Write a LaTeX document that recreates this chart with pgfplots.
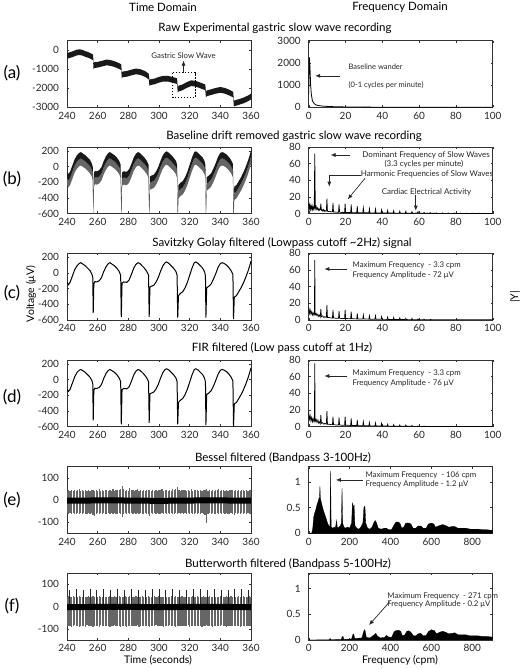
\documentclass[border=0pt]{standalone}
\usepackage{pgfplots}
\pgfplotsset{compat=1.18}
\usepackage{pgfplotstable}
\usetikzlibrary{arrows.meta}
\usepackage{fontspec}
\setmainfont{Lato}

\pgfplotsset{
 panel/.style={scale only axis, width=184pt, height=66.7pt, anchor=south west,
  clip mode=individual,
  axis line style={black!80, line width=0.45pt},
  tick align=inside, tick pos=both, major tick length=2.2pt,
  tick style={black!80, line width=0.4pt},
  ticklabel style={font=\fontsize{10}{11}\selectfont, text=black!85},
  yticklabel style={xshift=-4.5pt},
  xticklabel style={yshift=-1pt},
  /pgf/number format/1000 sep={},
  /pgf/number format/assume math mode=true},
 tleft/.style={panel, xmin=240, xmax=360, xtick={240,260,...,360}},
 fright/.style={panel, xmin=0, xmax=100, xtick={0,20,...,100}},
 fwide/.style={panel, xmin=0, xmax=900, xtick={0,200,...,800}, ymin=0, ymax=1.3, ytick={0,0.5,1}},
}
\tikzset{
 ann/.style={font=\fontsize{7.8}{9}\selectfont, text=black!85, inner sep=0pt},
 annb/.style={font=\fontsize{8}{9}\selectfont, text=black!85, inner sep=0pt},
 arr/.style={-{Latex[length=5pt,width=4pt]}, line width=0.7pt, black!85},
 ttl/.style={font=\fontsize{11.5}{13}\selectfont},
 lbl/.style={font=\fontsize{10.5}{12}\selectfont},
}

% ---- (c) Savitzky-Golay
\pgfplotstableread{
t v
240 -120
241 -150
242 -120
243.5 -40
245 40
246.5 90
248 120
249 130
250.5 110
252 90
253.5 60
255 30
256.3 -20
256.8 -60
257.1 -510
257.5 -140
258.2 -110
259.5 -115
261 -100
262.5 -60
264 20
265.5 80
267 120
268 130
269.5 110
271 90
272.5 60
274 20
275 -30
275.4 -560
275.9 -130
277 -115
279 -120
280.5 -90
282 -20
283.5 60
285 110
286.3 130
287.5 120
289 90
290.5 60
292 20
293.2 -30
293.6 -560
294.1 -180
295 -170
296.5 -160
298 -120
299.5 -60
301 20
302.5 90
304 130
305 140
306.5 120
308 90
309.5 60
311 20
311.8 -30
312.2 -570
312.7 -290
314 -260
315.5 -240
317 -190
318.5 -120
320 -30
321.5 60
323 130
324 140
325.5 120
327 90
328.5 60
329.8 10
330.3 -40
330.6 -570
331.1 -190
332.5 -170
334 -140
335.5 -80
337 -10
338.5 70
340 120
341.3 130
342.5 120
344 100
345.5 70
347 30
348.2 -20
348.6 -590
349.1 -310
350.5 -290
352 -240
353.5 -190
355 -130
356.5 -60
358 20
359 80
360 150
}\tabC

% ---- (d) FIR
\pgfplotstableread{
t v
240 -125
241 -150
242 -125
243.5 -45
245 35
246.5 90
248 120
249 128
250.5 112
252 90
253.5 62
255 30
256.3 -15
256.8 -55
257.1 -520
257.5 -135
258.2 -110
259.5 -112
261 -100
262.5 -62
264 18
265.5 80
267 118
268 128
269.5 112
271 92
272.5 62
274 22
275 -25
275.4 -570
275.9 -130
277 -112
279 -118
280.5 -92
282 -22
283.5 58
285 110
286.3 128
287.5 120
289 92
290.5 62
292 22
293.2 -25
293.6 -550
294.1 -180
295 -172
296.5 -160
298 -122
299.5 -62
301 18
302.5 90
304 130
305 138
306.5 122
308 92
309.5 62
311 22
311.8 -25
312.2 -570
312.7 -290
314 -262
315.5 -240
317 -192
318.5 -122
320 -32
321.5 58
323 128
324 138
325.5 122
327 92
328.5 62
329.8 12
330.3 -35
330.6 -580
331.1 -190
332.5 -172
334 -142
335.5 -82
337 -12
338.5 68
340 118
341.3 130
342.5 120
344 102
345.5 72
347 32
348.2 -15
348.6 -600
349.1 -310
350.5 -292
352 -242
353.5 -192
355 -132
356.5 -62
358 18
359 80
360 150
}\tabD

% ---- (e) Bessel: upper and lower tips of the cardiac spikes
\pgfplotstableread{
x up dn
240 42 -58
241 45 -62
242 40 -60
243 44 -63
244 38 -57
245 46 -61
246 41 -64
247 43 -59
248 47 -62
249 40 -58
250 44 -63
251 39 -60
252 45 -61
253 42 -64
254 46 -58
255 41 -62
256 44 -60
257 43 -66
258 40 -72
259 45 -61
260 42 -59
261 47 -63
262 39 -60
263 44 -62
264 41 -58
265 46 -64
266 43 -61
267 40 -59
268 45 -63
269 42 -60
270 48 -62
271 41 -58
272 44 -64
273 46 -61
274 43 -60
275 50 -63
276 63 -75
277 48 -62
278 42 -60
279 45 -64
280 40 -58
281 55 -62
282 43 -60
283 46 -63
284 41 -59
285 44 -62
286 47 -60
287 40 -64
288 45 -58
289 42 -61
290 44 -63
291 39 -60
292 46 -62
293 43 -65
294 45 -70
295 41 -60
296 44 -62
297 40 -58
298 46 -64
299 42 -60
300 45 -61
301 43 -63
302 48 -59
303 41 -62
304 44 -60
305 46 -64
306 40 -58
307 45 -62
308 42 -60
309 47 -63
310 43 -61
311 50 -60
312 56 -64
313 44 -58
314 41 -62
315 46 -60
316 43 -63
317 45 -59
318 40 -62
319 44 -60
320 42 -64
321 47 -58
322 41 -61
323 45 -63
324 43 -60
325 46 -62
326 40 -59
327 44 -63
328 42 -60
329 45 -62
330 43 -66
331 48 -105
332 41 -62
333 44 -60
334 40 -63
335 46 -58
336 42 -61
337 45 -64
338 43 -60
339 47 -62
340 41 -59
341 44 -63
342 46 -60
343 40 -62
344 45 -58
345 42 -64
346 44 -61
347 43 -60
348 46 -63
349 41 -68
350 44 -60
351 40 -62
352 45 -59
353 42 -63
354 46 -60
355 43 -62
356 41 -58
357 45 -64
358 42 -60
359 44 -61
360 43 -62
}\tabE

% ---- (f) Butterworth
\pgfplotstableread{
x up dn
240 44 -86
241 46 -88
242 43 -85
243 45 -90
244 47 -87
245 42 -84
246 45 -89
247 44 -86
248 46 -91
249 43 -85
250 45 -88
251 47 -86
252 44 -90
253 42 -84
254 46 -87
255 45 -89
256 43 -86
257 47 -92
258 44 -85
259 45 -88
260 42 -87
261 46 -90
262 44 -84
263 45 -88
264 47 -86
265 43 -89
266 45 -87
267 44 -85
268 46 -90
269 42 -86
270 45 -88
271 47 -84
272 44 -89
273 43 -87
274 46 -86
275 45 -91
276 44 -85
277 42 -88
278 46 -86
279 45 -90
280 43 -87
281 47 -85
282 44 -88
283 45 -86
284 43 -89
285 46 -87
286 44 -84
287 45 -90
288 42 -86
289 47 -88
290 44 -85
291 45 -89
292 43 -87
293 46 -86
294 44 -91
295 45 -85
296 42 -88
297 46 -87
298 44 -84
299 45 -89
300 47 -86
301 43 -88
302 45 -85
303 44 -90
304 46 -87
305 42 -86
306 45 -89
307 44 -84
308 47 -88
309 43 -87
310 45 -85
311 46 -90
312 44 -86
313 42 -88
314 45 -87
315 47 -85
316 44 -89
317 43 -86
318 46 -88
319 45 -84
320 44 -90
321 42 -87
322 46 -85
323 45 -88
324 43 -86
325 47 -89
326 44 -87
327 45 -85
328 43 -90
329 46 -86
330 44 -88
331 45 -84
332 42 -89
333 46 -87
334 44 -86
335 45 -90
336 47 -85
337 43 -88
338 45 -86
339 44 -89
340 46 -87
341 42 -84
342 45 -88
343 44 -86
344 47 -90
345 43 -85
346 45 -88
347 46 -87
348 44 -86
349 42 -89
350 45 -85
351 44 -88
352 46 -86
353 43 -90
354 45 -87
355 47 -85
356 44 -88
357 45 -86
358 43 -89
359 46 -87
360 44 -86
}\tabF

\pgfplotstableread{
x up
241.5 76
246 79
250.5 75
255 78
259.5 77
264 80
268.5 76
273 78
277.5 75
282 79
286.5 77
291 76
295.5 80
300 78
304.5 75
309 79
313.5 77
318 76
322.5 80
327 78
331.5 75
336 79
340.5 77
345 76
349.5 78
354 80
358.5 75
}\tabFtall

\begin{document}
\begin{tikzpicture}
\useasboundingbox (0pt,0pt) rectangle (522pt,669pt);

% column and row titles
\node[ttl] at (163pt,662pt) {Time Domain};
\node[ttl] at (400pt,662pt) {Frequency Domain};
\node[ttl] at (275pt,641pt) {Raw Experimental gastric slow wave recording};
\node[ttl] at (294pt,533pt) {Baseline drift removed gastric slow wave recording};
\node[ttl] at (282pt,425.7pt) {Savitzky Golay filtered (Lowpass cutoff {\textasciitilde}2Hz) signal};
\node[ttl] at (282pt,320.7pt) {FIR filtered (Low pass cutoff at 1Hz)};
\node[ttl] at (283pt,211.3pt) {Bessel filtered (Bandpass 3-100Hz)};
\node[ttl] at (288pt,104.7pt) {Butterworth filtered (Bandpass 5-100Hz)};

\node[font=\fontsize{17}{19}\selectfont] at (12pt,596pt) {(a)};
\node[font=\fontsize{17}{19}\selectfont] at (12pt,490pt) {(b)};
\node[font=\fontsize{17}{19}\selectfont] at (12pt,376.3pt) {(c)};
\node[font=\fontsize{17}{19}\selectfont] at (12pt,272.3pt) {(d)};
\node[font=\fontsize{17}{19}\selectfont] at (12pt,169pt) {(e)};
\node[font=\fontsize{17}{19}\selectfont] at (12pt,63.3pt) {(f)};

\node[lbl, rotate=90] at (31pt,375pt) {Voltage (μV)};
\node[lbl, rotate=90] at (515pt,372pt) {|Y|};
\node[lbl] at (158pt,9pt) {Time (seconds)};
\node[lbl] at (400pt,9pt) {Frequency (cpm)};

% ================= (a)
\begin{axis}[tleft, at={(67pt,561.6pt)}, ymin=-3000, ymax=500, ytick={-3000,-2000,-1000,0}]
\addplot[fill=black!90, draw=none] coordinates {(240,-150)(242,-100)(244,-50)(246,20)(248,50)(250,20)(252,-50)(254,-100)(256,-180)(257,-230)(257.3,-700)(257.8,-630)(260,-610)(263,-550)(266,-490)(269,-530)(272,-610)(274.5,-700)(275.4,-750)(275.7,-1170)(276.2,-1120)(279,-1090)(282,-1020)(285,-960)(288,-1000)(291,-1100)(293.3,-1230)(293.8,-1570)(294.3,-1530)(297,-1490)(300,-1400)(303,-1340)(306,-1350)(309,-1410)(311.8,-1470)(312.2,-1910)(312.8,-1860)(315,-1810)(318,-1680)(321,-1580)(324,-1610)(327,-1700)(330.2,-1800)(330.6,-2170)(331.2,-2110)(334,-2050)(337,-1980)(340,-1930)(343,-1980)(346,-2080)(348.4,-2180)(348.8,-2650)(349.5,-2630)(352,-2570)(355,-2490)(358,-2380)(360,-2280)
(360,-2580)(358,-2680)(355,-2790)(352,-2870)(349.5,-2930)(348.8,-2950)(348.4,-2480)(346,-2380)(343,-2280)(340,-2230)(337,-2280)(334,-2350)(331.2,-2410)(330.6,-2470)(330.2,-2100)(327,-2000)(324,-1910)(321,-1880)(318,-1980)(315,-2110)(312.8,-2160)(312.2,-2210)(311.8,-1770)(309,-1710)(306,-1650)(303,-1640)(300,-1700)(297,-1790)(294.3,-1830)(293.8,-1870)(293.3,-1530)(291,-1400)(288,-1300)(285,-1260)(282,-1320)(279,-1390)(276.2,-1420)(275.7,-1470)(275.4,-1050)(274.5,-1000)(272,-910)(269,-830)(266,-790)(263,-850)(260,-910)(257.8,-930)(257.3,-1000)(257,-530)(256,-480)(254,-400)(252,-350)(250,-280)(248,-250)(246,-280)(244,-350)(242,-400)(240,-450)};
\draw[black, line width=1pt, dash pattern=on 1.6pt off 1.4pt] (309,-1170) rectangle (323.5,-2480);
\draw[arr] (316,-1170) -- (316,-540);
\node[ann, anchor=south] at (316,-430) {Gastric Slow Wave};
\end{axis}
\begin{axis}[fright, at={(308.7pt,561.6pt)}, ymin=0, ymax=3000, ytick={0,1000,2000,3000}]
\addplot[black, line width=0.8pt] coordinates {(0,600)(0.4,2250)(0.7,1800)(1.0,1100)(1.4,600)(2,300)(3,170)(4,110)(5,90)(6,75)(8,55)(10,45)(14,30)(20,20)(30,12)(40,9)(60,6)(80,4)(100,3)};
\draw[arr] (17,1418) -- (3.5,1418);
\node[ann, anchor=west, font=\fontsize{7.5}{9}\selectfont] at (21.6,1836) {Baseline wander};
\node[ann, anchor=west, font=\fontsize{7.5}{9}\selectfont] at (21.6,1015) {(0-1 cycles per minute)};
\end{axis}

% ================= (b)
\begin{axis}[tleft, at={(67pt,455.3pt)}, ymin=-600, ymax=250, ytick={-600,-400,...,200}]
\addplot[fill=black!60, draw=none] coordinates {(240,-145)(241,-175)(242,-145)(243.5,-65)(245,15)(246.5,65)(248,95)(249,105)(250.5,85)(252,65)(253.5,35)(255,5)(256.3,-45)(256.8,-85)(257.1,-535)(257.5,-165)(258.2,-135)(259.5,-140)(261,-125)(262.5,-85)(264,-5)(265.5,55)(267,95)(268,105)(269.5,85)(271,65)(272.5,35)(274,-5)(275,-55)(275.4,-585)(275.9,-155)(277,-140)(279,-145)(280.5,-115)(282,-45)(283.5,35)(285,85)(286.3,105)(287.5,95)(289,65)(290.5,35)(292,-5)(293.2,-55)(293.6,-585)(294.1,-205)(295,-195)(296.5,-185)(298,-145)(299.5,-85)(301,-5)(302.5,65)(304,105)(305,115)(306.5,95)(308,65)(309.5,35)(311,-5)(311.8,-55)(312.2,-595)(312.7,-315)(314,-285)(315.5,-265)(317,-215)(318.5,-145)(320,-55)(321.5,35)(323,105)(324,115)(325.5,95)(327,65)(328.5,35)(329.8,-15)(330.3,-65)(330.6,-595)(331.1,-215)(332.5,-195)(334,-165)(335.5,-105)(337,-35)(338.5,45)(340,95)(341.3,105)(342.5,95)(344,75)(345.5,45)(347,5)(348.2,-45)(348.6,-615)(349.1,-335)(350.5,-315)(352,-265)(353.5,-215)(355,-155)(356.5,-85)(358,-5)(359,55)(360,125)
(360,35)(359,-35)(358,-95)(356.5,-175)(355,-245)(353.5,-305)(352,-355)(350.5,-405)(349.1,-425)(348.6,-705)(348.2,-135)(347,-85)(345.5,-45)(344,-15)(342.5,5)(341.3,15)(340,5)(338.5,-45)(337,-125)(335.5,-195)(334,-255)(332.5,-285)(331.1,-305)(330.6,-685)(330.3,-155)(329.8,-105)(328.5,-55)(327,-25)(325.5,5)(324,25)(323,15)(321.5,-55)(320,-145)(318.5,-235)(317,-305)(315.5,-355)(314,-375)(312.7,-405)(312.2,-685)(311.8,-145)(311,-95)(309.5,-55)(308,-25)(306.5,5)(305,25)(304,15)(302.5,-25)(301,-95)(299.5,-175)(298,-235)(296.5,-275)(295,-285)(294.1,-295)(293.6,-675)(293.2,-145)(292,-95)(290.5,-55)(289,-25)(287.5,5)(286.3,15)(285,-5)(283.5,-55)(282,-135)(280.5,-205)(279,-235)(277,-230)(275.9,-245)(275.4,-675)(275,-145)(274,-95)(272.5,-55)(271,-25)(269.5,-5)(268,15)(267,5)(265.5,-35)(264,-95)(262.5,-175)(261,-215)(259.5,-230)(258.2,-225)(257.5,-255)(257.1,-625)(256.8,-175)(256.3,-135)(255,-85)(253.5,-55)(252,-25)(250.5,-5)(249,15)(248,5)(246.5,-25)(245,-75)(243.5,-155)(242,-235)(241,-265)(240,-235)};
\addplot[fill=black!90, draw=none] coordinates {(240,-65)(241,-95)(242,-65)(243.5,15)(245,95)(246.5,145)(248,175)(249,185)(250.5,165)(252,145)(253.5,115)(255,85)(256.3,35)(256.8,-5)(257.1,-455)(257.5,-85)(258.2,-55)(259.5,-60)(261,-45)(262.5,-5)(264,75)(265.5,135)(267,175)(268,185)(269.5,165)(271,145)(272.5,115)(274,75)(275,25)(275.4,-505)(275.9,-75)(277,-60)(279,-65)(280.5,-35)(282,35)(283.5,115)(285,165)(286.3,185)(287.5,175)(289,145)(290.5,115)(292,75)(293.2,25)(293.6,-505)(294.1,-125)(295,-115)(296.5,-105)(298,-65)(299.5,-5)(301,75)(302.5,145)(304,185)(305,195)(306.5,175)(308,145)(309.5,115)(311,75)(311.8,25)(312.2,-515)(312.7,-235)(314,-205)(315.5,-185)(317,-135)(318.5,-65)(320,25)(321.5,115)(323,185)(324,195)(325.5,175)(327,145)(328.5,115)(329.8,65)(330.3,15)(330.6,-515)(331.1,-135)(332.5,-115)(334,-85)(335.5,-25)(337,45)(338.5,125)(340,175)(341.3,185)(342.5,175)(344,155)(345.5,125)(347,85)(348.2,35)(348.6,-535)(349.1,-255)(350.5,-235)(352,-185)(353.5,-135)(355,-75)(356.5,-5)(358,75)(359,135)(360,205)
(360,125)(359,55)(358,-5)(356.5,-85)(355,-155)(353.5,-215)(352,-265)(350.5,-315)(349.1,-335)(348.6,-615)(348.2,-45)(347,5)(345.5,45)(344,75)(342.5,95)(341.3,105)(340,95)(338.5,45)(337,-35)(335.5,-105)(334,-165)(332.5,-195)(331.1,-215)(330.6,-595)(330.3,-65)(329.8,-15)(328.5,35)(327,65)(325.5,95)(324,115)(323,105)(321.5,35)(320,-55)(318.5,-145)(317,-215)(315.5,-265)(314,-285)(312.7,-315)(312.2,-595)(311.8,-55)(311,-5)(309.5,35)(308,65)(306.5,95)(305,115)(304,105)(302.5,65)(301,-5)(299.5,-85)(298,-145)(296.5,-185)(295,-195)(294.1,-205)(293.6,-585)(293.2,-55)(292,-5)(290.5,35)(289,65)(287.5,95)(286.3,105)(285,85)(283.5,35)(282,-45)(280.5,-115)(279,-145)(277,-140)(275.9,-155)(275.4,-585)(275,-55)(274,-5)(272.5,35)(271,65)(269.5,85)(268,105)(267,95)(265.5,55)(264,-5)(262.5,-85)(261,-125)(259.5,-140)(258.2,-135)(257.5,-165)(257.1,-535)(256.8,-85)(256.3,-45)(255,5)(253.5,35)(252,65)(250.5,85)(249,105)(248,95)(246.5,65)(245,15)(243.5,-65)(242,-145)(241,-175)(240,-145)};
\end{axis}
\begin{axis}[fright, at={(308.7pt,455.3pt)}, ymin=0, ymax=80, ytick={0,20,...,80}]
\addplot[black, line width=0.7pt] coordinates {(0,12)(0.3,6)(0.6,11)(0.9,5)(1.2,9)(1.5,6)(1.8,10)(2.1,5)(2.4,8)(2.7,5)(3.0,7)(3.3,72)(3.6,6)(4,9)(4.4,5)(4.8,7)(5.2,4)(5.6,6)(6,4)(6.3,5)(6.6,12)(6.9,4)(7.3,5)(7.7,3)(8.1,5)(8.5,3)(8.9,4)(9.3,3)(9.6,3)(9.9,18)(10.2,3)(10.8,2.5)(11.5,3)(12.2,2)(12.9,2.5)(13.2,13)(13.5,2)(14.5,2)(15.5,1.8)(16.2,1.8)(16.5,11)(16.8,1.8)(18,1.5)(19.5,1.5)(19.8,12)(20.1,1.5)(22.8,1.3)(23.1,11)(23.4,1.3)(26.1,1.2)(26.4,9)(26.7,1.2)(29.4,1.1)(29.7,7)(30,1.1)(32.7,1)(33,6)(33.3,1)(36,0.9)(36.3,5.5)(36.6,0.9)(39.3,0.8)(39.6,4.5)(39.9,0.8)(42.6,0.8)(42.9,4)(43.2,0.8)(45.9,0.7)(46.2,3.5)(46.5,0.7)(49.2,0.7)(49.5,3)(49.8,0.7)(52.5,0.6)(52.8,3)(53.1,0.6)(55.8,0.6)(56.1,2.5)(56.4,0.6)(59.1,0.8)(59.4,2.5)(59.7,0.8)(62.4,0.5)(62.7,1.5)(63,0.5)(65.7,0.5)(66,1.3)(66.3,0.5)(69,0.4)(69.3,1.1)(69.6,0.4)(72.3,0.4)(72.6,1)(72.9,0.4)(75.6,0.4)(75.9,0.9)(76.2,0.4)(78.9,0.3)(79.2,0.8)(79.5,0.3)(82.2,0.3)(82.5,0.7)(82.8,0.3)(85.5,0.3)(85.8,0.6)(86.1,0.3)(88.8,0.3)(89.1,0.6)(89.4,0.3)(92.1,0.3)(92.4,0.5)(92.7,0.3)(95.4,0.3)(95.7,0.5)(96,0.3)(100,0.3)};
\draw[arr] (22.4,70.4) -- (11.9,70.4);
\node[annb] at (63.8,69.8) {Dominant Frequency of Slow Waves};
\node[annb] at (62.6,59.6) {(3.3 cycles per minute)};
\node[annb] at (64.3,46.8) {Harmonic Frequencies of Slow Waves};
\draw[line width=0.7pt, black!85] (28.5,45.6) -- (11.2,45.6);
\draw[arr] (11.2,45.6) -- (11.2,32.4);
\draw[arr] (30.6,42.4) -- (21.2,17.2);
\node[annb] at (64,25.6) {Cardiac Electrical Activity};
\draw[arr] (58.2,22.4) -- (58.2,3.6);
\end{axis}

% ================= (c)
\begin{axis}[tleft, at={(67pt,349pt)}, ymin=-600, ymax=250, ytick={-600,-400,...,200}]
\addplot[black, line width=1pt] table[x=t,y=v]{\tabC};
\end{axis}
\begin{axis}[fright, at={(308.7pt,349pt)}, ymin=0, ymax=80, ytick={0,20,...,80}]
\addplot[black, line width=0.7pt] coordinates {(0,16)(0.4,8)(0.8,12)(1.2,7)(1.6,10)(2.0,6)(2.4,9)(2.8,6)(3.1,7)(3.3,72)(3.5,6)(4.0,8)(4.5,5)(5.0,7)(5.5,4)(6.0,6)(6.3,4)(6.6,13)(6.9,4)(7.5,5)(8.2,3)(8.8,4)(9.6,3)(9.9,18)(10.2,3)(11,3)(12,2.5)(12.9,2.5)(13.2,12)(13.5,2.5)(15,2)(16.2,2)(16.5,11)(16.8,2)(18,1.8)(19.5,1.8)(19.8,12)(20.1,1.8)(22.8,1.5)(23.1,10)(23.4,1.5)(26.1,1.3)(26.4,8)(26.7,1.3)(29.4,1.2)(29.7,6)(30,1.2)(32.7,1)(33,5)(33.3,1)(36,1)(36.3,5)(36.6,0.9)(39.3,0.8)(39.6,4)(39.9,0.8)(42.6,0.7)(42.9,3.5)(43.2,0.7)(45.9,0.6)(46.2,3)(46.5,0.6)(49.2,0.5)(49.5,2.5)(49.8,0.5)(52.5,0.5)(52.8,2)(53.1,0.5)(55.8,0.4)(56.1,2)(56.4,0.4)(59.1,0.4)(59.4,1.2)(59.7,0.4)(62.4,0.3)(62.7,1)(63,0.3)(66,0.3)(66.3,0.8)(66.6,0.3)(80,0.2)(100,0.2)};
\draw[arr] (21,61.2) -- (8.5,61.2);
\node[ann, anchor=west] at (23.8,65.1) {Maximum Frequency\ \ - 3.3 cpm};
\node[ann, anchor=west] at (23.8,54) {Frequency Amplitude - 72 μV};
\end{axis}

% ================= (d)
\begin{axis}[tleft, at={(67pt,242.3pt)}, ymin=-600, ymax=250, ytick={-600,-400,...,200}]
\addplot[black, line width=1pt] table[x=t,y=v]{\tabD};
\end{axis}
\begin{axis}[fright, at={(308.7pt,242.3pt)}, ymin=0, ymax=80, ytick={0,20,...,80}]
\addplot[black, line width=0.7pt] coordinates {(0,18)(0.4,9)(0.8,13)(1.2,7)(1.6,11)(2.0,6)(2.4,10)(2.8,6)(3.1,7)(3.3,76)(3.5,6)(4.0,9)(4.5,5)(5.0,8)(5.5,4)(6.0,6)(6.3,4)(6.6,14)(6.9,4)(7.5,5)(8.2,3)(8.8,4)(9.6,3)(9.9,19)(10.2,3)(11,3)(12,2.5)(12.9,2.5)(13.2,12)(13.5,2.5)(15,2)(16.2,2)(16.5,11)(16.8,2)(18,1.8)(19.5,1.8)(19.8,12)(20.1,1.8)(22.8,1.5)(23.1,10)(23.4,1.5)(26.1,1.3)(26.4,8)(26.7,1.3)(29.4,1.2)(29.7,6)(30,1.2)(32.7,1)(33,5)(33.3,1)(36,1)(36.3,4.5)(36.6,0.9)(39.3,0.8)(39.6,4)(39.9,0.8)(42.6,0.7)(42.9,3)(43.2,0.7)(45.9,0.6)(46.2,2.5)(46.5,0.6)(49.2,0.5)(49.5,2)(49.8,0.5)(52.5,0.5)(52.8,2)(53.1,0.5)(55.8,0.4)(56.1,1.5)(56.4,0.4)(59.1,0.4)(59.4,1)(59.7,0.4)(62.4,0.3)(62.7,0.8)(63,0.3)(80,0.2)(100,0.2)};
\draw[arr] (21,60.8) -- (8.5,60.8);
\node[ann, anchor=west] at (23.8,64) {Maximum Frequency\ \ - 3.3 cpm};
\node[ann, anchor=west] at (23.8,52) {Frequency Amplitude - 76 μV};
\end{axis}

% ================= (e)
\begin{axis}[tleft, at={(67pt,135.7pt)}, ymin=-150, ymax=150, ytick={-100,0,100}]
\addplot[ycomb, black!60, line width=1.2pt] table[x=x,y=up]{\tabE};
\addplot[ycomb, black!60, line width=1.2pt] table[x=x,y=dn]{\tabE};
\addplot[black, line width=6pt] coordinates {(240,-3)(270,-2)(300,-4)(330,-2)(360,-3)};
\end{axis}
\begin{axis}[fwide, at={(308.7pt,135.7pt)}]
\addplot[fill=black, draw=black, line width=0.3pt] coordinates {(0,0)(15,0.005)(20,0.1)(24,0.3)(28,0.38)(34,0.45)(40,0.55)(46,0.62)(50,0.68)(53,0.7)(55,0.92)(57,0.68)(62,0.6)(68,0.5)(74,0.42)(80,0.35)(86,0.28)(92,0.2)(98,0.15)(104,0.12)(107,1.21)(110,0.12)(118,0.1)(125,0.12)(130,0.1)(137,0.25)(140,0.1)(148,0.12)(155,0.15)(160,0.2)(163,0.88)(166,0.2)(172,0.12)(180,0.1)(190,0.12)(200,0.1)(210,0.2)(214,0.6)(218,0.5)(222,0.55)(226,0.15)(235,0.1)(245,0.08)(255,0.12)(265,0.2)(270,0.5)(275,0.53)(279,0.2)(288,0.1)(300,0.08)(310,0.12)(318,0.2)(325,0.25)(332,0.2)(340,0.1)(355,0.08)(370,0.1)(380,0.1)(390,0.07)(405,0.07)(420,0.18)(428,0.22)(440,0.22)(448,0.18)(455,0.1)(465,0.12)(475,0.2)(490,0.2)(500,0.18)(510,0.1)(525,0.1)(535,0.14)(550,0.14)(560,0.1)(575,0.1)(585,0.18)(600,0.2)(612,0.18)(620,0.12)(640,0.15)(655,0.17)(670,0.15)(685,0.12)(700,0.13)(715,0.13)(730,0.1)(750,0.1)(770,0.1)(790,0.08)(810,0.08)(830,0.08)(850,0.07)(870,0.07)(890,0.06)(900,0.06)} \closedcycle;
\draw[arr] (267,1.04) -- (133,1.04);
\node[ann, anchor=west] at (277,1.125) {Maximum Frequency\ \ - 106 cpm};
\node[ann, anchor=west] at (277,0.955) {Frequency Amplitude - 1.2 μV};
\end{axis}

% ================= (f)
\begin{axis}[tleft, at={(67pt,29pt)}, ymin=-150, ymax=150, ytick={-100,0,100}]
\addplot[ycomb, black!60, line width=1.2pt] table[x=x,y=up]{\tabF};
\addplot[ycomb, black!60, line width=1.2pt] table[x=x,y=dn]{\tabF};
\addplot[ycomb, black!85, line width=0.9pt] table[x=x,y=up]{\tabFtall};
\addplot[black, line width=6pt] coordinates {(240,-2)(270,-1)(300,-2)(330,-1)(360,-2)};
\end{axis}
\begin{axis}[fwide, at={(308.7pt,29pt)}]
\addplot[fill=black, draw=black, line width=0.3pt] coordinates {(0,0)(100,0.005)(105,0.03)(110,0.005)(160,0.01)(163,0.06)(168,0.07)(172,0.01)(210,0.02)(215,0.1)(220,0.12)(225,0.03)(260,0.04)(268,0.15)(272,0.2)(276,0.18)(282,0.05)(300,0.04)(320,0.1)(328,0.13)(335,0.08)(350,0.04)(370,0.05)(380,0.09)(390,0.06)(405,0.05)(418,0.16)(425,0.18)(440,0.19)(450,0.17)(458,0.08)(470,0.1)(480,0.17)(490,0.18)(500,0.15)(512,0.08)(525,0.08)(535,0.12)(548,0.13)(560,0.08)(575,0.09)(585,0.16)(600,0.2)(615,0.18)(625,0.12)(640,0.15)(655,0.17)(670,0.15)(685,0.12)(700,0.13)(715,0.14)(730,0.1)(750,0.1)(770,0.1)(790,0.08)(810,0.08)(830,0.08)(850,0.07)(870,0.07)(890,0.06)(900,0.06)} \closedcycle;
\draw[arr] (397,0.75) -- (295,0.29);
\node[ann, anchor=west] at (384,0.86) {Maximum Frequency\ \ - 271 cpm};
\node[ann, anchor=west] at (384,0.69) {Frequency Amplitude - 0.2 μV};
\end{axis}
\end{tikzpicture}
\end{document}
